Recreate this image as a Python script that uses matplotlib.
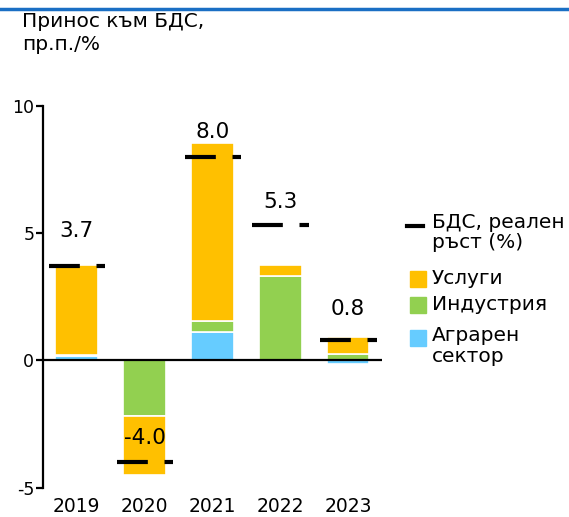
import numpy as np
import matplotlib
matplotlib.use("Agg")
import matplotlib.pyplot as plt
from matplotlib.patches import Rectangle
from matplotlib.lines import Line2D

years = ["2019", "2020", "2021", "2022", "2023"]
agri = [0.18, 0.0, 1.1, 0.0, -0.15]
industry = [0.05, -2.2, 0.45, 3.3, 0.25]
services = [3.5, -2.3, 7.0, 0.44, 0.67]
gdp = [3.7, -4.0, 8.0, 5.3, 0.8]
gdp_labels = ["3.7", "-4.0", "8.0", "5.3", "0.8"]

c_serv = "#FFC000"
c_ind = "#92D050"
c_agr = "#66CCFF"

plt.rcParams["font.family"] = ["DejaVu Sans"]

W, H = 569, 517
fig = plt.figure(figsize=(W / 100, H / 100), dpi=100)
ax = fig.add_axes([42.7 / W, 1 - 487.7 / H, (382 - 42.7) / W, (487.7 - 105.7) / H])

x = np.arange(len(years))
agri = np.array(agri)
industry = np.array(industry)
services = np.array(services)

# stack positives upward and negatives downward
pos_base = np.zeros(len(years))
neg_base = np.zeros(len(years))
for vals, col in [(agri, c_agr), (industry, c_ind), (services, c_serv)]:
    bottoms = np.where(vals >= 0, pos_base, neg_base)
    ax.bar(x, vals, 0.63, bottom=bottoms, color=col, edgecolor="white", linewidth=1.2, zorder=2)
    pos_base = pos_base + np.where(vals >= 0, vals, 0)
    neg_base = neg_base + np.where(vals < 0, vals, 0)

# GDP markers (dashed thick line)
for xi, g in zip(x, gdp):
    ax.plot([xi - 0.41, xi + 0.42], [g, g], color="black", lw=3,
            dashes=(7.4, 4.0), dash_capstyle="butt", zorder=3)

label_y = [5.07, -3.05, 8.98, 6.2, 2.0]
for xi, ly, t in zip(x, label_y, gdp_labels):
    ax.text(xi, ly, t, ha="center", va="center", fontsize=15.5, zorder=4)

ax.axhline(0, color="black", lw=1.6, zorder=3)
ax.set_xlim(-0.5, 4.5)
ax.set_ylim(-5, 10)
ax.set_yticks([-5, 0, 5, 10])
ax.set_yticklabels(["-5", "0", "5", "10"], fontsize=12.5)
ax.set_xticks(x)
ax.set_xticklabels(years, fontsize=13.5)
ax.tick_params(axis="x", length=0, pad=7)
ax.tick_params(axis="y", length=5, width=1.6, pad=1)
for s in ["top", "right", "bottom"]:
    ax.spines[s].set_visible(False)
ax.spines["left"].set_linewidth(1.6)

# title
fig.text(22 / W, 1 - 12 / H, "Принос към БДС,\nпр.п./%", ha="left", va="top",
         fontsize=14.5, linespacing=1.3)

# top blue rule
fig.add_artist(Line2D([0, 1], [1 - 8.5 / H, 1 - 8.5 / H], color="#1a6fc4", lw=2.5))

# legend built by hand
fig.add_artist(Line2D([407 / W, 423 / W], [1 - 226 / H, 1 - 226 / H], color="black", lw=3))
fig.text(432 / W, 1 - 213 / H, "БДС, реален\nръст (%)", ha="left", va="top", fontsize=14.5, linespacing=1.1)
items = [(c_serv, "Услуги", 279), (c_ind, "Индустрия", 305), (c_agr, "Аграрен\nсектор", 338)]
for col, txt, yc in items:
    fig.patches.append(Rectangle((410 / W, 1 - (yc + 8) / H), 16 / W, 16 / H,
                                 transform=fig.transFigure, color=col, figure=fig))
for col, txt, yc in items[:2]:
    fig.text(432 / W, 1 - yc / H, txt, ha="left", va="center", fontsize=14.5)
fig.text(432 / W, 1 - 326 / H, items[2][1], ha="left", va="top", fontsize=14.5, linespacing=1.1)

fig.savefig("out.png", dpi=100)
